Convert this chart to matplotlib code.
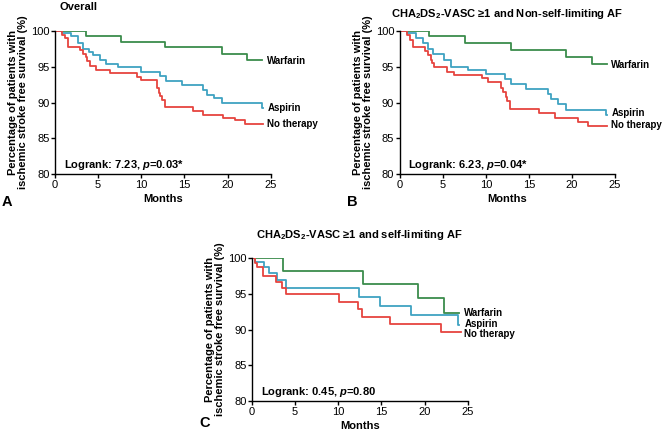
import numpy as np
import matplotlib
matplotlib.use("Agg")
import matplotlib.pyplot as plt

plt.rcParams['font.family'] = ['Liberation Sans', 'DejaVu Sans']
plt.rcParams['mathtext.fontset'] = 'custom'
plt.rcParams['mathtext.rm'] = 'Liberation Sans'
plt.rcParams['mathtext.bf'] = 'Liberation Sans:bold'
plt.rcParams['mathtext.it'] = 'Liberation Sans:italic'
plt.rcParams['mathtext.bfit'] = 'Liberation Sans:bold:italic'

GREEN = '#3b8c4c'
BLUE = '#3fa2c2'
RED = '#e6443f'

# ---- Panel A: overall ----
a_warf_t = [0, 3.6, 7.7, 12.8, 19.3, 22.3, 24.0]
a_warf_s = [100, 99.3, 98.5, 97.7, 96.8, 95.9, 95.9]
a_asp_t = [0, 0.8, 1.9, 2.7, 3.3, 3.9, 4.4, 5.2, 5.9, 7.3, 10.0, 12.2, 12.9,
           14.7, 17.2, 17.6, 18.4, 19.3, 24.0, 24.1]
a_asp_s = [100, 99.7, 99.3, 98.3, 97.5, 97.0, 96.6, 96.0, 95.4, 94.9, 94.3,
           93.7, 93.0, 92.4, 91.8, 91.1, 90.6, 89.9, 89.3, 89.3]
a_no_t = [0, 0.8, 1.2, 1.5, 2.9, 3.3, 3.6, 3.7, 4.0, 4.8, 6.4, 9.5, 10.0,
          11.8, 12.0, 12.2, 12.4, 12.8, 16.0, 17.2, 19.5, 20.8, 22.0, 24.1]
a_no_s = [100, 99.5, 99.0, 97.8, 97.3, 96.8, 96.3, 95.8, 95.1, 94.6, 94.1,
          93.6, 93.1, 92.0, 91.4, 90.9, 90.3, 89.4, 88.8, 88.3, 87.8, 87.5,
          87.0, 87.0]

# ---- Panel B: CHA2DS2-VASC >=1, non-self-limiting AF ----
b_warf_t = [0, 3.4, 7.6, 12.9, 19.3, 22.3, 24.1]
b_warf_s = [100, 99.3, 98.3, 97.4, 96.4, 95.4, 95.4]
b_asp_t = [0, 0.8, 1.9, 2.7, 3.3, 3.9, 5.2, 5.9, 7.9, 10.0, 12.2, 12.9,
           14.7, 17.2, 17.6, 18.4, 19.3, 24.0, 24.1]
b_asp_s = [100, 99.7, 99.0, 98.3, 97.5, 96.8, 96.0, 95.0, 94.5, 94.0, 93.3,
           92.6, 91.9, 91.2, 90.5, 89.8, 89.0, 88.3, 88.3]
b_no_t = [0, 0.8, 1.2, 1.5, 2.9, 3.3, 3.6, 3.7, 4.0, 5.5, 6.3, 9.6, 10.2,
          11.8, 12.0, 12.3, 12.5, 12.8, 16.2, 18.1, 20.7, 21.9, 24.1]
b_no_s = [100, 99.4, 98.8, 97.7, 97.2, 96.6, 96.0, 95.5, 94.9, 94.3, 93.9,
          93.4, 92.9, 92.0, 91.5, 90.8, 90.2, 89.1, 88.5, 87.9, 87.3, 86.7,
          86.7]

# ---- Panel C: CHA2DS2-VASC >=1, self-limiting AF ----
c_warf_t = [0, 3.6, 12.9, 19.2, 22.3, 24.0]
c_warf_s = [100, 98.2, 96.4, 94.4, 92.3, 92.3]
c_asp_t = [0, 0.3, 1.4, 2.0, 2.9, 3.9, 12.4, 14.8, 18.4, 23.9, 24.0]
c_asp_s = [100, 99.4, 98.8, 97.9, 96.9, 95.8, 94.6, 93.3, 92.0, 90.6, 90.6]
c_no_t = [0, 0.3, 0.6, 1.3, 2.8, 3.5, 3.9, 10.1, 12.3, 12.8, 16.0, 21.9, 24.2]
c_no_s = [100, 99.3, 98.8, 97.5, 96.6, 95.8, 94.9, 93.9, 92.8, 91.8, 90.8,
          89.7, 89.7]

groups = ['Warfarin', 'Aspirin', 'No therapy']
colors = [GREEN, BLUE, RED]


def km_panel(ax, curves, label_y, title, logrank, letter, letter_y,
             title_left=False, title_pad=10):
    for (t, s), c in zip(curves, colors):
        ax.step(t, s, where='post', color=c, lw=1.3)
    for name, y in zip(groups, label_y):
        ax.text(24.6, y, name, fontsize=7, fontweight='bold',
                va='center', ha='left', clip_on=False)
    ax.set_xlim(0, 25)
    ax.set_ylim(80, 100)
    ax.set_xticks([0, 5, 10, 15, 20, 25])
    ax.set_yticks([80, 85, 90, 95, 100])
    for sp in ['top', 'right']:
        ax.spines[sp].set_visible(False)
    for sp in ['left', 'bottom']:
        ax.spines[sp].set_linewidth(1.0)
    ax.tick_params(labelsize=8, length=3, width=1, pad=1)
    ax.set_xlabel('Months', fontsize=8, fontweight='bold', labelpad=3)
    ax.set_ylabel('Percentage of patients with\nischemic stroke free survival (%)',
                  fontsize=8, fontweight='bold', labelpad=2, linespacing=1.0)
    if title_left:
        ax.text(0.02, 1.13, title, transform=ax.transAxes, fontsize=8,
                fontweight='bold', ha='left', va='bottom')
    else:
        ax.set_title(title, fontsize=8, fontweight='bold', pad=title_pad)
    ax.text(1.0, 81.3, logrank, fontsize=8, fontweight='bold', va='center')
    ax.text(-0.245, letter_y, letter, transform=ax.transAxes, fontsize=10.5,
            fontweight='bold', ha='left', va='center')


fig = plt.figure(figsize=(6.64, 4.34), dpi=100)
axA = fig.add_axes([0.0828, 0.599, 0.325, 0.3295])
axB = fig.add_axes([0.602, 0.599, 0.324, 0.3295])
axC = fig.add_axes([0.3795, 0.076, 0.325, 0.3295])

km_panel(axA, [(a_warf_t, a_warf_s), (a_asp_t, a_asp_s), (a_no_t, a_no_s)],
         [95.8, 89.2, 87.0], 'Overall',
         r'Logrank: 7.23, $\mathbfit{p}$=0.03*', 'A', -0.196, title_left=True)
km_panel(axB, [(b_warf_t, b_warf_s), (b_asp_t, b_asp_s), (b_no_t, b_no_s)],
         [95.2, 88.6, 86.8],
         r'CHA$_\mathbf{2}$DS$_\mathbf{2}$-VASC ≥1 and Non-self-limiting AF',
         r'Logrank: 6.23, $\mathbfit{p}$=0.04*', 'B', -0.196)
km_panel(axC, [(c_warf_t, c_warf_s), (c_asp_t, c_asp_s), (c_no_t, c_no_s)],
         [92.3, 90.8, 89.4],
         r'CHA$_\mathbf{2}$DS$_\mathbf{2}$-VASC ≥1 and self-limiting AF',
         r'Logrank: 0.45, $\mathbfit{p}$=0.80', 'C', -0.155, title_pad=14.5)

fig.savefig('out.png', dpi=100)
